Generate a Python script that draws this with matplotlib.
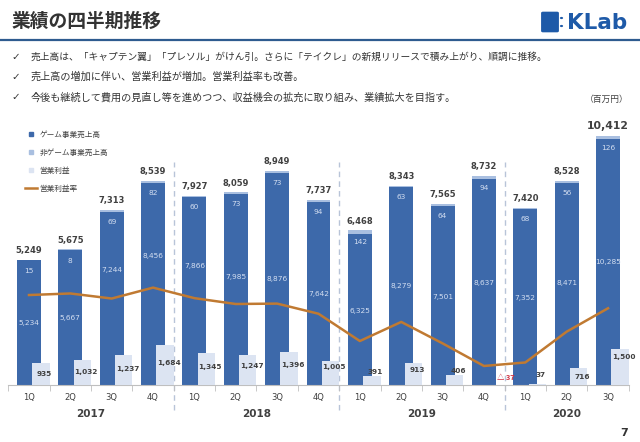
import matplotlib.pyplot as plt
import numpy as np
from matplotlib.lines import Line2D
from matplotlib.patches import FancyBboxPatch, Circle

plt.rcParams['font.family'] = ['Noto Sans CJK JP', 'DejaVu Sans']

# データ（百万円）
quarters = ['1Q', '2Q', '3Q', '4Q', '1Q', '2Q', '3Q', '4Q', '1Q', '2Q', '3Q', '4Q', '1Q', '2Q', '3Q']
years = ['2017', '2018', '2019', '2020']
game = [5234, 5667, 7244, 8456, 7866, 7985, 8876, 7642, 6325, 8279, 7501, 8637, 7352, 8471, 10285]
non_game = [15, 8, 69, 82, 60, 73, 73, 94, 142, 63, 64, 94, 68, 56, 126]
total = [5249, 5675, 7313, 8539, 7927, 8059, 8949, 7737, 6468, 8343, 7565, 8732, 7420, 8528, 10412]
profit = [935, 1032, 1237, 1684, 1345, 1247, 1396, 1005, 391, 913, 406, -37, 37, 716, 1500]
margin = [17.8, 18.2, 16.9, 19.7, 17.0, 15.5, 15.6, 13.0, 6.0, 10.9, 5.4, -0.4, 0.5, 8.4, 14.4]

c_game = '#3D69AA'
c_non = '#A9BFE0'
c_profit = '#DCE4F2'
c_line = '#C07A32'
c_text = '#404040'
c_light = '#D3DEF1'
c_logo = '#1E5AA8'

fig = plt.figure(figsize=(6.4, 4.42), dpi=100)
W, H = 640, 442


def fx(px):
    return px / W


def fy(py):
    return 1 - py / H


# ヘッダー
fig.text(fx(12), fy(21), '業績の四半期推移', fontsize=13.5, fontweight='bold', color='#333333', va='center')
fig.add_artist(Line2D([0, 1], [fy(40), fy(40)], color='#2E5B8F', lw=1.6))
fig.add_artist(FancyBboxPatch((fx(543), fy(31)), fx(14), 18 / H, boxstyle='round,pad=0.003',
                              fc=c_logo, ec='none'))
for dy in (18, 26):
    fig.add_artist(Circle((fx(561.5), fy(dy)), 1.6 / W, fc=c_logo, ec='none'))
fig.text(fx(567), fy(23), 'KLab', fontsize=15.5, fontweight='bold', color=c_logo, va='center',
         family='DejaVu Sans')

bullets = [
    '売上高は、「キャプテン翼」「プレソル」がけん引。さらに「テイクレ」の新規リリースで積み上がり、順調に推移。',
    '売上高の増加に伴い、営業利益が増加。営業利益率も改善。',
    '今後も継続して費用の見直し等を進めつつ、収益機会の拡充に取り組み、業績拡大を目指す。',
]
bullet_size = [7.0, 7.3, 7.3]
for i, b in enumerate(bullets):
    y = fy(57 + 20 * i)
    fig.text(fx(11), y, '✓', fontsize=7.5, color='#333333', va='center', family='DejaVu Sans')
    fig.text(fx(31), y, b, fontsize=bullet_size[i], color='#333333', va='center')
fig.text(fx(607), fy(99), '（百万円）', fontsize=6.3, color='#404040', ha='center', va='center')
fig.text(fx(624), fy(433), '7', fontsize=8, fontweight='bold', color='#333333', ha='center', va='center',
         family='DejaVu Sans')

# グラフ
ax = fig.add_axes([fx(8.3), 57 / H, 620.4 / W, 265 / H])
x = np.arange(len(quarters))
ax.bar(x, game, width=0.58, color=c_game, zorder=2)
ax.bar(x, non_game, width=0.58, bottom=game, color=c_non, zorder=2)
ax.bar(x + 0.29, profit, width=0.42, color=c_profit, zorder=3)
ax.set_xlim(-0.5, len(quarters) - 0.5)
ax.set_ylim(0, 11088)

ax2 = ax.twinx()
ax2.plot(x, margin, color=c_line, lw=1.8, zorder=4)
ax2.set_ylim(-5.28, 62.7)
ax2.axis('off')

# ラベル
game_label_y = [2600, 2800, 4800, 5400, 5000, 4500, 4450, 3800, 3100, 4150, 3700, 4250, 3650, 4250, 5150]
profit_label_y = [460, 544, 669, 920, 753, 795, 837, 753, 544, 628, 586, 293, 418, 335, 1172]
for i in range(len(quarters)):
    big = i == len(quarters) - 1
    ax.annotate(f'{total[i]:,}', (x[i], total[i]), xytext=(0, 3.5), textcoords='offset points',
                ha='center', va='bottom', fontsize=7.8 if big else 6, fontweight='bold',
                color=c_text, family='DejaVu Sans', zorder=6)
    ax.annotate(f'{non_game[i]:,}', (x[i], total[i]), xytext=(0, -8.5), textcoords='offset points',
                ha='center', va='center', fontsize=5.3, color=c_light, family='DejaVu Sans', zorder=6)
    ax.text(x[i], game_label_y[i], f'{game[i]:,}', ha='center', va='center', fontsize=5.3,
            color=c_light, family='DejaVu Sans', zorder=6)
    if profit[i] < 0:
        ax.text(x[i] + 0.52, profit_label_y[i], f'△ {abs(profit[i])}', ha='center', va='center',
                fontsize=5.3, fontweight='bold', color='#D03040', zorder=6)
    else:
        ax.text(x[i] + 0.38, profit_label_y[i], f'{profit[i]:,}', ha='center', va='center',
                fontsize=5.3, fontweight='bold', color=c_text, family='DejaVu Sans', zorder=6)

# 区切り線
for s in [3.5, 7.5, 11.5]:
    ax.axvline(s, ymin=-0.094, ymax=0.84, color='#B8C4D8', lw=1, ls=(0, (4, 3)), clip_on=False, zorder=1)

# 軸
for sp in ['top', 'right', 'left']:
    ax.spines[sp].set_visible(False)
ax.spines['bottom'].set_color('#BFBFBF')
ax.set_yticks([])
ax.set_xticks(x)
ax.set_xticklabels(quarters, fontsize=6, color=c_text, family='DejaVu Sans')
ax.tick_params(axis='x', length=0, pad=5.5)
ax.set_xticks(np.arange(-0.5, len(quarters)), minor=True)
ax.tick_params(axis='x', which='minor', length=4, color='#BFBFBF')
year_pos = [1.5, 5.5, 9.5, 13]
for p, yl in zip(year_pos, years):
    ax.text(p, -0.109, yl, transform=ax.get_xaxis_transform(), ha='center', va='center',
            fontsize=7.5, fontweight='bold', color=c_text, family='DejaVu Sans')

# 凡例
handles = [
    Line2D([], [], marker='s', ls='none', color=c_game, markersize=3.5),
    Line2D([], [], marker='s', ls='none', color=c_non, markersize=3.5),
    Line2D([], [], marker='s', ls='none', color=c_profit, markersize=3.5),
    Line2D([], [], color=c_line, lw=1.8),
]
labels = ['ゲーム事業売上高', '非ゲーム事業売上高', '営業利益', '営業利益率']
ax.legend(handles, labels, loc='upper left', bbox_to_anchor=(fx(18), fy(124)), bbox_transform=fig.transFigure,
          frameon=False, fontsize=5.5, handlelength=1.6, handletextpad=0.3, labelspacing=1.3,
          labelcolor='#404040')

fig.savefig('out.png', dpi=100)
